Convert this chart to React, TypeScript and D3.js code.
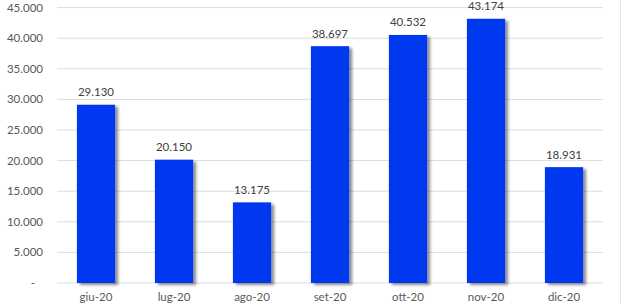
import React from "react";
import * as d3 from "d3";

const categories = ["giu-20", "lug-20", "ago-20", "set-20", "ott-20", "nov-20", "dic-20"];
const values = [29130, 20150, 13175, 38697, 40532, 43174, 18931];
const yTicks = [0, 5000, 10000, 15000, 20000, 25000, 30000, 35000, 40000, 45000];

const W = 622, H = 304;
const left = 57, right = 603, top = 7.6, bottom = 283;

const fmt = (v: number) => (v === 0 ? "-" : d3.format(",")(v).replace(/,/g, "."));

export default function App() {
  const x = d3.scaleBand<string>().domain(categories).range([left, right]).paddingInner(0.51).paddingOuter(0.255);
  const y = d3.scaleLinear().domain([0, 45000]).range([bottom, top]);
  const font = "Lato, 'Open Sans', sans-serif";
  return (
    <svg width={W} height={H} style={{ position: "absolute", left: 0, top: 0, background: "#fff" }}>
      <defs>
        <filter id="sh" x="-20%" y="-20%" width="150%" height="150%">
          <feGaussianBlur in="SourceAlpha" stdDeviation="1.6" />
          <feOffset dx="3" dy="2" result="b" />
          <feComponentTransfer><feFuncA type="linear" slope="0.45" /></feComponentTransfer>
          <feMerge><feMergeNode /><feMergeNode in="SourceGraphic" /></feMerge>
        </filter>
      </defs>
      <line x1={620.5} x2={620.5} y1={0} y2={H} stroke="#E3E6EE" strokeWidth={1} />
      {yTicks.map((t) => (
        <g key={t}>
          <line x1={left} x2={right} y1={y(t)} y2={y(t)} stroke="#D9DDE6" strokeWidth={1} />
          <text x={t === 0 ? 35 : 43} y={y(t) + 4} textAnchor="end" fontFamily={font} fontSize={11.5} fill="#595959">
            {fmt(t)}
          </text>
        </g>
      ))}
      {categories.map((c, i) => (
        <g key={c}>
          <rect x={x(c)} y={y(values[i])} width={x.bandwidth()} height={bottom - y(values[i])} fill="#0037F0" filter="url(#sh)" />
          <text x={x(c)! + x.bandwidth() / 2} y={y(values[i]) - 8.5} textAnchor="middle" fontFamily={font} fontSize={11.5} fill="#404040">
            {fmt(values[i])}
          </text>
          <text x={x(c)! + x.bandwidth() / 2} y={301} textAnchor="middle" fontFamily={font} fontSize={11.5} fill="#595959">
            {c}
          </text>
        </g>
      ))}
    </svg>
  );
}
